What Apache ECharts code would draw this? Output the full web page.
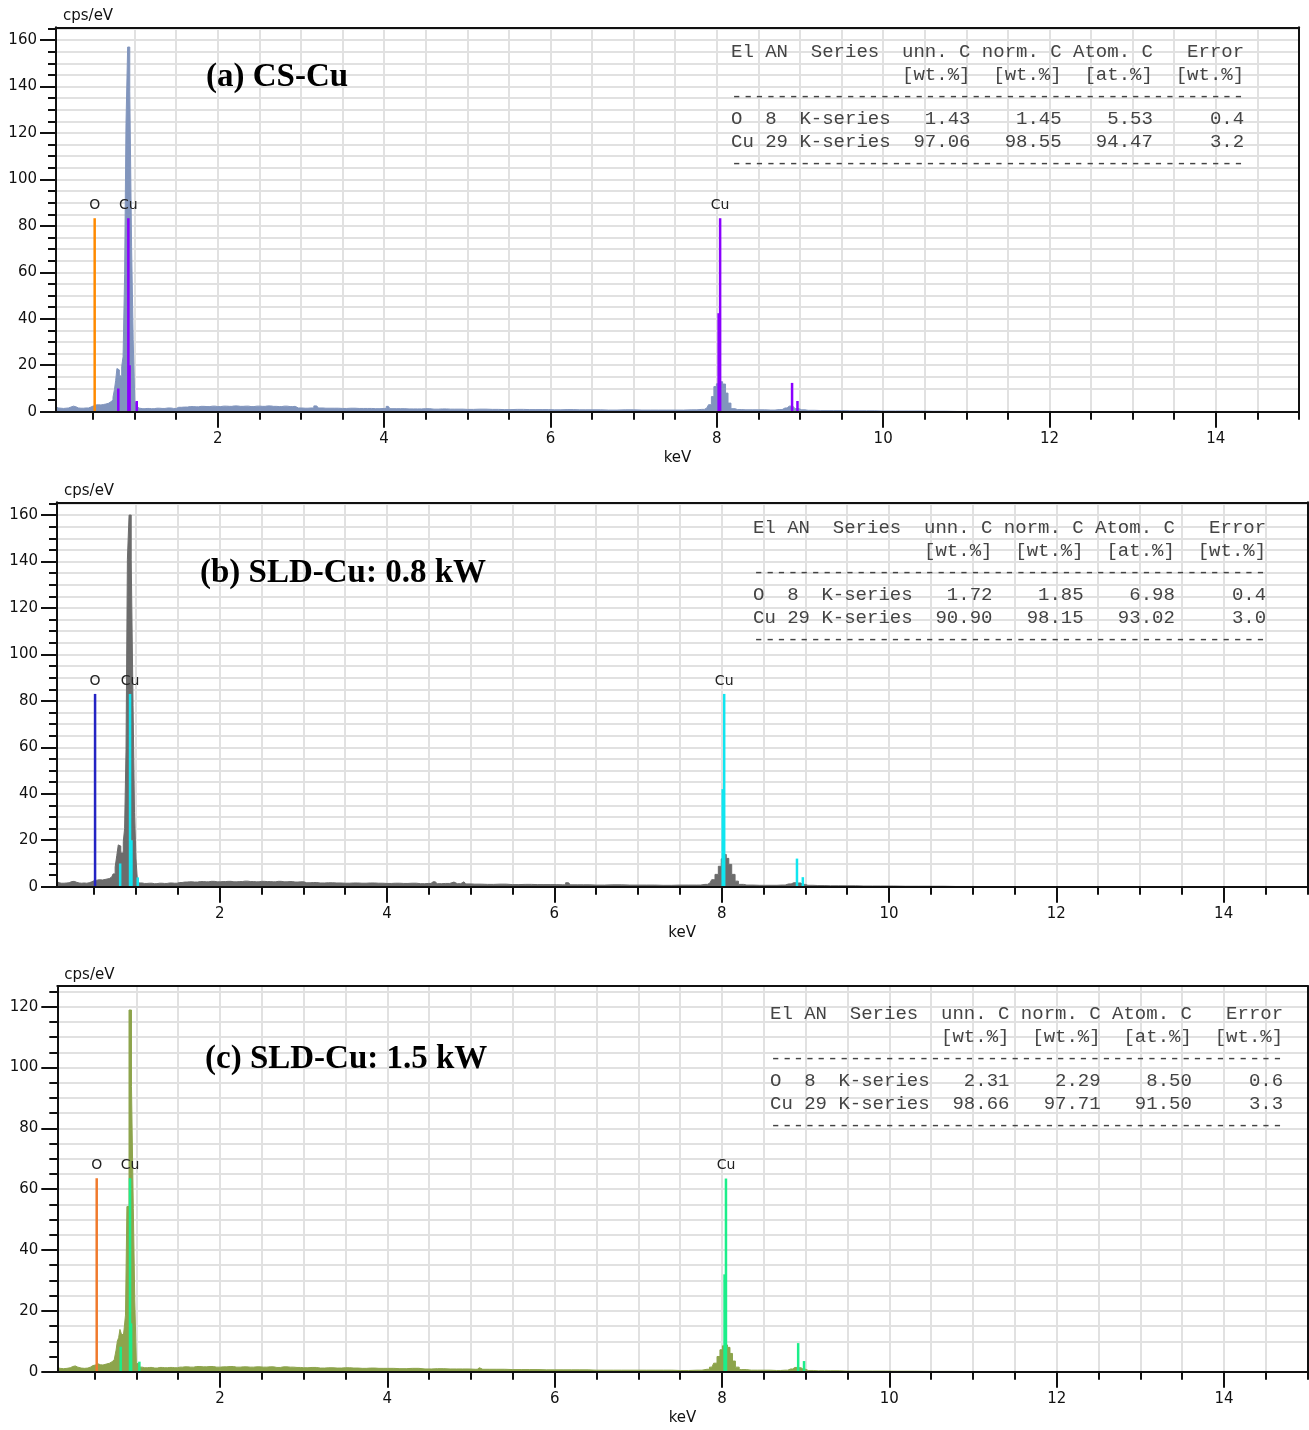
<!DOCTYPE html>
<html><head><meta charset="utf-8">
<script src="https://cdn.jsdelivr.net/npm/echarts@6/dist/echarts.min.js"></script>
<style>html,body{margin:0;padding:0;background:#fff}#c{width:1309px;height:1430px}</style>
</head><body><div id="c"></div>
<script>
// ---------------- data ----------------
const X_MIN = 0.055, X_MAX = 15;
const xMajorTicks = [2, 4, 6, 8, 10, 12, 14];
const xMinorTicks = [0.5,1,1.5,2,2.5,3,3.5,4,4.5,5,5.5,6,6.5,7,7.5,8,8.5,9,9.5,10,10.5,11,11.5,12,12.5,13,13.5,14,14.5,15];
const yMajorTicksAB = [0, 20, 40, 60, 80, 100, 120, 140, 160];
const yMinorTicksAB = [5,10,15,20,25,30,35,40,45,50,55,60,65,70,75,80,85,90,95,100,105,110,115,120,125,130,135,140,145,150,155,160,165];
const yMajorTicksC = [0, 20, 40, 60, 80, 100, 120];
const yMinorTicksC = [5,10,15,20,25,30,35,40,45,50,55,60,65,70,75,80,85,90,95,100,105,110,115,120,125];
const yMaxAB = 165.5, yMaxC = 126.8;

// spectra: [keV, cps/eV]
const specA = [[0.055,2.0],[0.07,1.6],[0.1,1.5],[0.13,1.4],[0.16,1.5],[0.19,1.6],[0.22,2.0],[0.25,2.4],[0.28,2.1],[0.31,1.6],[0.34,1.5],[0.37,1.5],[0.4,1.6],[0.43,1.6],[0.46,2.0],[0.49,2.5],[0.52,2.9],[0.55,3.0],[0.58,2.9],[0.61,3.1],[0.64,3.3],[0.67,3.6],[0.70,4.3],[0.73,5.0],[0.75,6.2],[0.765,9.5],[0.78,13.5],[0.795,18.6],[0.81,18.0],[0.823,15.8],[0.838,15.0],[0.852,19.5],[0.871,23.7],[0.889,59],[0.904,124],[0.929,157],[0.955,138],[0.973,71],[0.993,31],[1.012,4.5],[1.03,2.2],[1.06,1.5],[1.1,1.3],[1.15,1.4],[1.2,1.3],[1.27,1.5],[1.33,1.4],[1.4,1.6],[1.47,1.4],[1.53,1.9],[1.6,2.0],[1.67,2.2],[1.74,2.1],[1.8,2.3],[1.87,2.2],[1.94,2.4],[2.0,2.2],[2.07,2.4],[2.14,2.3],[2.2,2.5],[2.27,2.3],[2.34,2.4],[2.4,2.2],[2.47,2.4],[2.54,2.3],[2.6,2.5],[2.67,2.3],[2.74,2.2],[2.8,2.4],[2.87,2.2],[2.93,2.3],[2.97,1.6],[3.05,1.5],[3.12,1.6],[3.19,2.5],[3.23,1.6],[3.3,1.5],[3.4,1.5],[3.5,1.4],[3.6,1.5],[3.7,1.4],[3.8,1.4],[3.9,1.3],[4.0,1.4],[4.05,2.3],[4.09,1.3],[4.2,1.3],[4.3,1.2],[4.4,1.2],[4.5,1.3],[4.6,1.1],[4.7,1.2],[4.8,1.1],[4.9,1.1],[5.0,1.0],[5.15,1.1],[5.3,1.0],[5.45,0.9],[5.6,1.0],[5.75,0.9],[5.9,0.9],[6.05,0.8],[6.2,0.9],[6.35,0.8],[6.5,0.8],[6.7,0.7],[6.9,0.8],[7.1,0.7],[7.3,0.7],[7.5,0.7],[7.7,0.8],[7.82,1.0],[7.88,1.6],[7.92,3.0],[7.95,6.5],[7.98,10.8],[8.01,12.0],[8.05,12.9],[8.09,11.9],[8.12,8.0],[8.15,3.7],[8.19,1.3],[8.25,0.9],[8.35,0.8],[8.5,0.8],[8.65,0.7],[8.75,0.9],[8.82,1.6],[8.87,2.4],[8.92,2.2],[8.96,1.3],[9.02,0.8],[9.1,0.6],[9.25,0.5],[9.4,0.5],[9.6,0.4],[9.8,0.4],[10.0,0.3],[10.3,0.3],[10.6,0.2],[10.9,0.1],[11.3,0.05],[12,0],[15,0]];

const specB = [[0.055,2.2],[0.08,1.7],[0.11,1.5],[0.14,1.5],[0.17,1.6],[0.2,1.7],[0.23,2.2],[0.26,2.3],[0.29,1.9],[0.32,1.6],[0.35,1.5],[0.38,1.6],[0.41,1.5],[0.44,1.7],[0.47,2.1],[0.5,2.6],[0.53,2.8],[0.56,3.0],[0.6,2.9],[0.64,3.2],[0.68,3.5],[0.71,4.2],[0.74,5.5],[0.76,8.5],[0.78,13.5],[0.795,18.0],[0.81,17.5],[0.825,14.5],[0.84,14.5],[0.855,19.5],[0.871,25],[0.889,59],[0.904,141],[0.929,160],[0.955,141],[0.973,78],[0.99,32],[1.008,12],[1.025,2.5],[1.05,1.6],[1.1,1.4],[1.16,1.5],[1.22,1.3],[1.28,1.5],[1.34,1.4],[1.4,1.6],[1.46,1.5],[1.52,1.8],[1.58,2.0],[1.64,2.1],[1.7,2.0],[1.77,2.2],[1.84,2.1],[1.9,2.3],[1.97,2.1],[2.04,2.2],[2.1,2.3],[2.17,2.1],[2.24,2.2],[2.3,2.4],[2.37,2.2],[2.44,2.1],[2.5,2.3],[2.57,2.2],[2.64,2.1],[2.7,2.3],[2.77,2.1],[2.84,2.2],[2.9,2.0],[2.97,2.1],[3.04,1.7],[3.12,1.8],[3.2,1.6],[3.3,1.7],[3.4,1.6],[3.5,1.5],[3.6,1.6],[3.7,1.5],[3.8,1.6],[3.9,1.5],[4.0,1.4],[4.1,1.5],[4.2,1.4],[4.3,1.5],[4.4,1.3],[4.5,1.4],[4.55,2.1],[4.6,1.3],[4.7,1.4],[4.8,2.0],[4.84,1.3],[4.92,2.1],[4.96,1.2],[5.05,1.1],[5.2,1.0],[5.35,1.1],[5.5,0.9],[5.65,1.0],[5.8,0.9],[5.95,0.9],[6.1,0.8],[6.17,1.7],[6.21,0.8],[6.35,0.8],[6.5,0.7],[6.7,0.8],[6.9,0.7],[7.1,0.7],[7.3,0.6],[7.5,0.7],[7.7,0.7],[7.8,1.0],[7.86,1.6],[7.9,3.0],[7.94,5.3],[7.98,8.8],[8.01,12.0],[8.04,13.9],[8.07,12.2],[8.10,9.6],[8.14,5.3],[8.18,2.4],[8.22,1.0],[8.3,0.7],[8.45,0.6],[8.6,0.6],[8.72,0.7],[8.8,1.2],[8.86,1.7],[8.92,1.6],[8.97,1.0],[9.03,0.6],[9.15,0.5],[9.3,0.4],[9.5,0.4],[9.7,0.3],[9.9,0.3],[10.2,0.2],[10.5,0.2],[10.8,0.1],[11.2,0.05],[12,0],[15,0]];

const specC = [[0.055,1.3],[0.09,1.1],[0.13,1.0],[0.17,1.1],[0.21,1.3],[0.24,1.7],[0.27,1.9],[0.3,1.5],[0.34,1.2],[0.38,1.1],[0.42,1.2],[0.45,1.5],[0.48,2.0],[0.51,2.2],[0.54,2.6],[0.57,2.3],[0.6,2.2],[0.64,2.5],[0.68,2.8],[0.71,3.3],[0.735,3.9],[0.75,4.4],[0.765,7.1],[0.78,10.0],[0.796,11.2],[0.812,13.9],[0.828,12.5],[0.845,12.0],[0.862,14.0],[0.878,18.6],[0.896,54.3],[0.928,118.9],[0.955,93.7],[0.972,53.7],[0.99,23.6],[1.01,2.7],[1.04,1.5],[1.1,1.3],[1.16,1.4],[1.22,1.2],[1.28,1.4],[1.34,1.3],[1.4,1.4],[1.46,1.3],[1.52,1.5],[1.58,1.6],[1.65,1.5],[1.72,1.7],[1.8,1.6],[1.88,1.7],[1.96,1.5],[2.04,1.6],[2.12,1.7],[2.2,1.5],[2.28,1.6],[2.36,1.5],[2.44,1.6],[2.52,1.5],[2.6,1.6],[2.68,1.4],[2.76,1.6],[2.84,1.5],[2.92,1.4],[3.0,1.3],[3.1,1.4],[3.2,1.2],[3.3,1.3],[3.4,1.2],[3.5,1.3],[3.6,1.2],[3.7,1.1],[3.8,1.2],[3.9,1.1],[4.0,1.1],[4.15,1.0],[4.3,1.1],[4.45,0.9],[4.6,1.0],[4.75,0.9],[4.9,0.9],[5.05,0.8],[5.1,1.3],[5.14,0.8],[5.3,0.8],[5.5,0.7],[5.7,0.7],[5.9,0.6],[6.1,0.6],[6.3,0.6],[6.5,0.5],[6.7,0.5],[6.9,0.5],[7.1,0.5],[7.3,0.5],[7.5,0.4],[7.7,0.5],[7.82,0.8],[7.88,1.5],[7.92,2.8],[7.96,5.0],[7.99,7.2],[8.02,8.5],[8.05,8.8],[8.08,8.0],[8.11,6.0],[8.14,3.5],[8.18,1.5],[8.23,0.7],[8.35,0.5],[8.5,0.5],[8.65,0.4],[8.75,0.5],[8.82,0.9],[8.87,1.4],[8.92,1.3],[8.97,0.8],[9.03,0.4],[9.15,0.3],[9.3,0.3],[9.5,0.2],[9.8,0.2],[10.1,0.15],[10.5,0.1],[11,0.05],[12,0],[15,0]];

// element marker lines: [keV, height, element, labelled]
const linesA = [[0.52,83.3,'O',1],[0.804,10,'Cu',0],[0.925,83.3,'Cu',1],[0.94,20,'Cu',0],[1.026,4.6,'Cu',0],[8.022,42.4,'Cu',0],[8.04,83.3,'Cu',1],[8.905,12.4,'Cu',0],[8.97,4.6,'Cu',0]];
const linesB = [[0.51,83,'O',1],[0.81,10,'Cu',0],[0.928,83,'Cu',1],[0.945,20,'Cu',0],[1.02,4,'Cu',0],[8.012,42,'Cu',0],[8.03,83,'Cu',1],[8.9,12.1,'Cu',0],[8.97,4.1,'Cu',0]];
const linesC = [[0.526,63.6,'O',1],[0.813,8.2,'Cu',0],[0.924,63.6,'Cu',1],[0.937,15.9,'Cu',0],[1.036,3.3,'Cu',0],[8.03,32,'Cu',0],[8.047,63.5,'Cu',1],[8.91,9.4,'Cu',0],[8.98,3.5,'Cu',0]];

const titles = ['(a) CS-Cu', '(b) SLD-Cu: 0.8 kW', '(c) SLD-Cu: 1.5 kW'];
const tableHeader = ['El', 'AN', 'Series', 'unn. C', 'norm. C', 'Atom. C', 'Error'];
const tableUnits = ['[wt.%]', '[wt.%]', '[at.%]', '[wt.%]'];
const tableA = [['O','8','K-series','1.43','1.45','5.53','0.4'],['Cu','29','K-series','97.06','98.55','94.47','3.2']];
const tableB = [['O','8','K-series','1.72','1.85','6.98','0.4'],['Cu','29','K-series','90.90','98.15','93.02','3.0']];
const tableC = [['O','8','K-series','2.31','2.29','8.50','0.6'],['Cu','29','K-series','98.66','97.71','91.50','3.3']];
const xName = 'keV', yName = 'cps/eV';

// ---------------- layout & style ----------------
const SANS = 'DejaVu Sans';
const panels = [
  {grid:{left:56, top:27.3, width:1243, height:384.4}, yMax:yMaxAB, yMaj:yMajorTicksAB, yMin:yMinorTicksAB, spec:specA, lines:linesA,
   specColor:'#8195bd', colO:'#ff8a00', colCu:'#8a00ff', title:titles[0], titleXY:[206,77], table:tableA, tableXY:[731,41]},
  {grid:{left:57, top:502.3, width:1250.3, height:384.4}, yMax:yMaxAB, yMaj:yMajorTicksAB, yMin:yMinorTicksAB, spec:specB, lines:linesB,
   specColor:'#6c6c6c', colO:'#2424c4', colCu:'#10e6f0', title:titles[1], titleXY:[200,573], table:tableB, tableXY:[753,517]},
  {grid:{left:57.3, top:986, width:1250.4, height:385.7}, yMax:yMaxC, yMaj:yMajorTicksC, yMin:yMinorTicksC, spec:specC, lines:linesC,
   specColor:'#8da44c', colO:'#f07a2c', colCu:'#1cee8a', title:titles[2], titleXY:[205,1059], table:tableC, tableXY:[770,1003]}
];

function tableText(rows) {
  const h = tableHeader;
  const l1 = h[0].padEnd(3) + h[1].padEnd(4) + h[2].padEnd(8) + h[3].padStart(6) + h[4].padStart(8) + h[5].padStart(8) + h[6].padStart(8);
  const l2 = ''.padEnd(15) + tableUnits.map((u, i) => u.padStart(i === 0 ? 6 : 8)).join('');
  const dash = '-'.repeat(45);
  const rs = rows.map(r => r[0].padEnd(3) + r[1].padEnd(3) + r[2] + r[3].padStart(7) + r[4].padStart(8) + r[5].padStart(8) + r[6].padStart(8));
  return [l1, l2, dash].concat(rs).concat([dash]).join('\n');
}

const tickStyle = {color:'#111', width:2};
const gridLineStyle = {color:'#e1e1e1', width:2};
const option = {
  animation:false, backgroundColor:'#fff',
  grid:[], xAxis:[], yAxis:[], series:[], graphic:[]
};

panels.forEach((p, i) => {
  option.grid.push(Object.assign({show:false, containLabel:false}, p.grid));
  const xb = i * 3, yb = i * 3;
  // minor x axis (ticks + vertical grid)
  option.xAxis.push({type:'value', gridIndex:i, min:X_MIN, max:X_MAX, position:'bottom', z:0,
    axisLine:{show:false}, axisLabel:{show:false},
    axisTick:{show:true, customValues:xMinorTicks, length:8, lineStyle:tickStyle},
    splitLine:{show:true, showMinLine:false, showMaxLine:false, lineStyle:gridLineStyle}});
  // major x axis
  option.xAxis.push({type:'value', gridIndex:i, min:X_MIN, max:X_MAX, position:'bottom', z:5,
    name:xName, nameLocation:'middle', nameGap:46,
    nameTextStyle:{fontFamily:SANS, fontSize:15, color:'#111', verticalAlign:'middle'},
    axisLine:{show:true, onZero:false, lineStyle:tickStyle},
    axisTick:{show:true, customValues:xMajorTicks, length:16, lineStyle:tickStyle},
    axisLabel:{show:true, customValues:xMajorTicks, margin:20, fontFamily:SANS, fontSize:15, color:'#111'},
    splitLine:{show:false}});
  // top border
  option.xAxis.push({type:'value', gridIndex:i, min:X_MIN, max:X_MAX, position:'top', z:5,
    axisLine:{show:true, onZero:false, lineStyle:tickStyle}, axisTick:{show:false}, axisLabel:{show:false}, splitLine:{show:false}});
  // minor y axis
  option.yAxis.push({type:'value', gridIndex:i, min:0, max:p.yMax, position:'left', z:0,
    axisLine:{show:false}, axisLabel:{show:false},
    axisTick:{show:true, customValues:p.yMin, length:8, lineStyle:tickStyle},
    splitLine:{show:true, showMinLine:false, showMaxLine:true, lineStyle:gridLineStyle}});
  // major y axis
  option.yAxis.push({type:'value', gridIndex:i, min:0, max:p.yMax, position:'left', z:5,
    name:yName, nameLocation:'end', nameGap:11,
    nameTextStyle:{fontFamily:SANS, fontSize:15, color:'#111', align:'left', verticalAlign:'middle', padding:[0,0,0,7]},
    axisLine:{show:true, onZero:false, lineStyle:tickStyle},
    axisTick:{show:true, customValues:p.yMaj, length:16, lineStyle:tickStyle},
    axisLabel:{show:true, customValues:p.yMaj, margin:19, fontFamily:SANS, fontSize:15, color:'#111'},
    splitLine:{show:false}});
  // right border
  option.yAxis.push({type:'value', gridIndex:i, min:0, max:p.yMax, position:'right', z:5,
    axisLine:{show:true, onZero:false, lineStyle:tickStyle}, axisTick:{show:false}, axisLabel:{show:false}, splitLine:{show:false}});

  option.series.push({type:'line', xAxisIndex:xb + 1, yAxisIndex:yb + 1, data:p.spec, step:'middle',
    showSymbol:false, symbol:'none', silent:true, z:2,
    lineStyle:{color:p.specColor, width:1}, areaStyle:{color:p.specColor, opacity:1}});
  option.series.push({type:'bar', xAxisIndex:xb + 1, yAxisIndex:yb + 1, barWidth:2.5, silent:true, z:3,
    data:p.lines.map(l => ({value:[l[0], l[1]],
      itemStyle:{color: l[2] === 'O' ? p.colO : p.colCu},
      label:{show: !!l[3], formatter: l[2], position:'top', distance:6, fontFamily:SANS, fontSize:14, color:'#222'}}))});

  option.graphic.push({type:'text', x:p.titleXY[0], y:p.titleXY[1], silent:true, z:100,
    style:{text:p.title, fontFamily:'Liberation Serif', fontWeight:'bold', fontSize:33, fill:'#000', align:'left', verticalAlign:'middle'}});
  option.graphic.push({type:'text', x:p.tableXY[0], y:p.tableXY[1], silent:true, z:100,
    style:{text:tableText(p.table), fontFamily:'Liberation Mono', fontSize:19, lineHeight:22.4, fill:'#444', align:'left', verticalAlign:'top'}});
});

const chart = echarts.init(document.getElementById('c'), null, {renderer:'canvas'});
chart.setOption(option);
</script>
</body></html>
